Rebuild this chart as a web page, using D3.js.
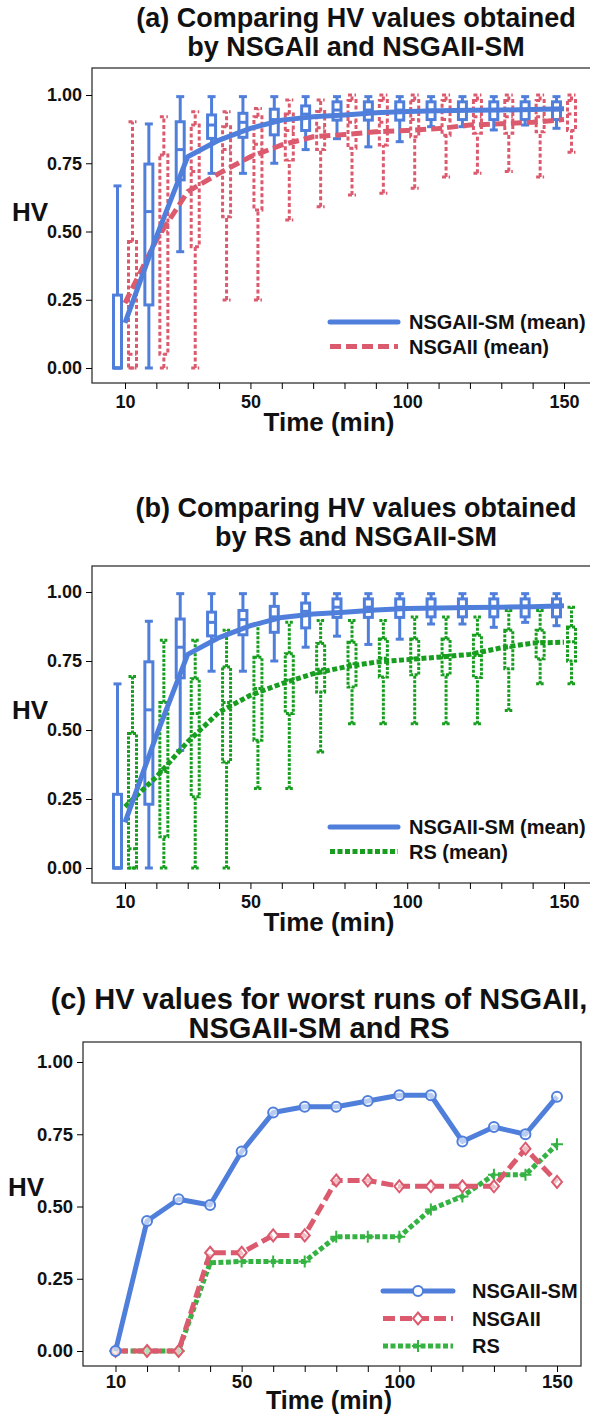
<!DOCTYPE html>
<html>
<head>
<meta charset="utf-8">
<script src="https://cdn.jsdelivr.net/npm/d3@7"></script>
<style>
  body { margin: 0; background: #fff; }
  svg { display: block; font-family: "Liberation Sans", Arial, sans-serif; font-weight: bold; }
</style>
</head>
<body>
<svg id="chart" width="590" height="1414"></svg>
<script>
const times = [10, 20, 30, 40, 50, 60, 70, 80, 90, 100, 110, 120, 130, 140, 150]
const timeLabels = [10, 50, 100, 150]
const hvTicks = [0, 0.25, 0.5, 0.75, 1]

// boxes: [whisker low, q1, median, q3, whisker high] per time
const smBoxes = [
  [0, 0, 0, 0.267, 0.667], [0, 0.231, 0.573, 0.747, 0.894], [0.426, 0.689, 0.80, 0.902, 0.994],
  [0.713, 0.841, 0.89, 0.927, 0.994], [0.713, 0.845, 0.90, 0.933, 0.994], [0.75, 0.854, 0.91, 0.948, 0.994],
  [0.80, 0.87, 0.93, 0.96, 0.994], [0.84, 0.908, 0.945, 0.975, 0.994], [0.81, 0.908, 0.945, 0.975, 0.994],
  [0.829, 0.908, 0.945, 0.975, 0.994], [0.884, 0.91, 0.945, 0.975, 0.994], [0.884, 0.91, 0.945, 0.975, 0.994],
  [0.872, 0.91, 0.945, 0.975, 0.994], [0.89, 0.91, 0.945, 0.975, 0.994], [0.878, 0.91, 0.945, 0.975, 0.994]
]
const nsgaBoxes = [
  [0, 0, 0.05, 0.463, 0.902], [0, 0.05, 0.5, 0.78, 0.92], [0, 0.444, 0.72, 0.89, 0.939],
  [0.249, 0.554, 0.80, 0.884, 0.939], [0.249, 0.579, 0.82, 0.92, 0.951], [0.542, 0.762, 0.87, 0.93, 0.982],
  [0.591, 0.80, 0.88, 0.94, 0.982], [0.634, 0.805, 0.90, 0.98, 1.0], [0.64, 0.817, 0.90, 0.98, 1.0],
  [0.658, 0.847, 0.91, 0.98, 1.0], [0.70, 0.853, 0.91, 0.98, 1.0], [0.713, 0.86, 0.92, 0.98, 1.0],
  [0.72, 0.86, 0.92, 0.98, 1.0], [0.70, 0.865, 0.92, 0.98, 1.0], [0.79, 0.87, 0.93, 0.98, 1.0]
]
const rsBoxes = [
  [0, 0, 0.07, 0.487, 0.694], [0, 0.113, 0.35, 0.60, 0.825], [0, 0.258, 0.56, 0.686, 0.825],
  [0, 0.384, 0.60, 0.728, 0.861], [0.288, 0.463, 0.65, 0.764, 0.885], [0.288, 0.56, 0.68, 0.776, 0.89],
  [0.42, 0.638, 0.72, 0.813, 0.897], [0.523, 0.656, 0.74, 0.818, 0.897], [0.523, 0.692, 0.76, 0.83, 0.897],
  [0.523, 0.70, 0.76, 0.83, 0.909], [0.523, 0.70, 0.77, 0.83, 0.909], [0.523, 0.69, 0.77, 0.843, 0.909],
  [0.571, 0.722, 0.80, 0.861, 0.933], [0.668, 0.758, 0.82, 0.861, 0.933], [0.668, 0.75, 0.82, 0.873, 0.945]
]

const smMean = [0.165, 0.48, 0.774, 0.835, 0.878, 0.908, 0.92, 0.927, 0.935, 0.94, 0.942, 0.944, 0.945, 0.947, 0.95]
const nsgaMean = [0.238, 0.469, 0.646, 0.713, 0.774, 0.817, 0.847, 0.855, 0.865, 0.87, 0.877, 0.89, 0.895, 0.90, 0.91]
const rsMean = [0.222, 0.33, 0.457, 0.565, 0.626, 0.668, 0.704, 0.728, 0.746, 0.755, 0.764, 0.774, 0.798, 0.815, 0.818]

// worst runs
const smWorst = [0, 0.45, 0.525, 0.505, 0.69, 0.825, 0.845, 0.845, 0.865, 0.885, 0.885, 0.725, 0.775, 0.75, 0.88]
const nsgaWorst = [0, 0, 0, 0.34, 0.34, 0.40, 0.40, 0.59, 0.59, 0.57, 0.57, 0.57, 0.57, 0.70, 0.585]
const rsWorst = [0, 0, 0, 0.305, 0.31, 0.31, 0.31, 0.395, 0.395, 0.395, 0.49, 0.535, 0.61, 0.61, 0.715]

const BLUE = "#4f7fdb"
const RED = "#dc5a6e"
const GREEN = "#179e1f"
const GREEN_C = "#34b343"

const svg = d3.select("#chart")

boxPanel({
  box: { left: 92, right: 620, top: 68, bottom: 383 },
  xRange: [125, 564], yRange: [368, 95],
  titles: ["(a) Comparing HV values obtained", "by NSGAII and NSGAII-SM"], titleY: [27, 56],
  other: { boxes: nsgaBoxes, mean: nsgaMean, color: RED, boxDash: "4,2.5", meanDash: "11,5", name: "NSGAII (mean)" },
  legendY: 322
})

boxPanel({
  box: { left: 92, right: 620, top: 566, bottom: 883 },
  xRange: [125, 564], yRange: [868, 592],
  titles: ["(b) Comparing HV values obtained", "by RS and NSGAII-SM"], titleY: [517, 546],
  other: { boxes: rsBoxes, mean: rsMean, color: GREEN, boxDash: "3,1.5", meanDash: "5,2.5", name: "RS (mean)" },
  legendY: 827
})

linePanel()

function frameAndAxes({ box, x, y, titles, titleY, titleX, titleSize, tickSize, xPad, hvX, timeY, timeSize }) {
  const g = svg.append("g")

  g.append("rect")
    .attr("x", box.left)
    .attr("y", box.top)
    .attr("width", box.right - box.left)
    .attr("height", box.bottom - box.top)
    .attr("fill", "none")
    .attr("stroke", "#333")
    .attr("stroke-width", 1.3)

  const styleTicks = a => a.selectAll(".tick text")
    .attr("font-size", tickSize)
    .attr("font-family", "Liberation Sans, Arial, sans-serif")
    .attr("font-weight", "bold")
    .attr("fill", "#111")

  g.append("g")
    .attr("transform", `translate(${box.left}, 0)`)
    .call(d3.axisLeft(y).tickValues(hvTicks).tickFormat(d3.format(".2f")).tickSize(6).tickPadding(4))
    .call(a => a.select(".domain").remove())
    .call(styleTicks)

  g.append("g")
    .attr("transform", `translate(0, ${box.bottom})`)
    .call(d3.axisBottom(x).tickValues(times)
      .tickFormat(d => timeLabels.includes(d) ? d : "")
      .tickSize(6).tickPadding(xPad))
    .call(a => a.select(".domain").remove())
    .call(styleTicks)

  g.append("text")
    .attr("x", hvX)
    .attr("y", y(0.5) - 11)
    .attr("font-size", 26)
    .attr("fill", "#111")
    .text("HV")

  g.append("text")
    .attr("x", 329)
    .attr("y", timeY)
    .attr("text-anchor", "middle")
    .attr("font-size", timeSize)
    .attr("fill", "#111")
    .text("Time (min)")

  titles.forEach((t, i) => {
    g.append("text")
      .attr("x", titleX)
      .attr("y", titleY[i])
      .attr("text-anchor", "middle")
      .attr("font-size", titleSize)
      .attr("fill", "#111")
      .text(t)
  })
}

function drawBoxes(g, boxes, x, y, offset, color, dash) {
  const half = 4
  const items = g.append("g")
    .attr("fill", "none")
    .attr("stroke", color)
    .attr("stroke-width", 3)
    .attr("stroke-dasharray", dash)
    .selectAll("g")
    .data(boxes.map((b, i) => ({ t: times[i], lo: b[0], q1: b[1], med: b[2], q3: b[3], hi: b[4] })))
    .join("g")
    .attr("transform", d => `translate(${x(d.t) + offset}, 0)`)

  items.append("line")
    .attr("y1", d => y(d.lo)).attr("y2", d => y(d.q1))
  items.append("line")
    .attr("y1", d => y(d.q3)).attr("y2", d => y(d.hi))
  items.append("line")
    .attr("x1", -half).attr("x2", half)
    .attr("y1", d => y(d.lo)).attr("y2", d => y(d.lo))
  items.append("line")
    .attr("x1", -half).attr("x2", half)
    .attr("y1", d => y(d.hi)).attr("y2", d => y(d.hi))
  items.append("rect")
    .attr("x", -half)
    .attr("width", half * 2)
    .attr("y", d => y(d.q3))
    .attr("height", d => Math.max(0.5, y(d.q1) - y(d.q3)))
  items.append("line")
    .attr("x1", -half).attr("x2", half)
    .attr("y1", d => y(d.med)).attr("y2", d => y(d.med))
}

function drawMean(g, values, x, y, color, width, dash) {
  g.append("path")
    .datum(values.map((v, i) => [times[i], v]))
    .attr("fill", "none")
    .attr("stroke", color)
    .attr("stroke-width", width)
    .attr("stroke-dasharray", dash)
    .attr("stroke-linejoin", "round")
    .attr("d", d3.line().x(d => x(d[0])).y(d => y(d[1])))
}

function boxPanel({ box, xRange, yRange, titles, titleY, other, legendY }) {
  const x = d3.scaleLinear().domain([10, 150]).range(xRange)
  const y = d3.scaleLinear().domain([0, 1]).range(yRange)

  frameAndAxes({ box, x, y, titles, titleY, titleX: 356, titleSize: 27,
    tickSize: 18, xPad: 6, hvX: 12, timeY: box.bottom + 48, timeSize: 26 })

  const g = svg.append("g")
  drawBoxes(g, smBoxes, x, y, -7.5, BLUE, null)
  drawBoxes(g, other.boxes, x, y, 7.5, other.color, other.boxDash)
  drawMean(g, other.mean, x, y, other.color, 5, other.meanDash)
  drawMean(g, smMean, x, y, BLUE, 5, null)

  const legend = [
    { name: "NSGAII-SM (mean)", color: BLUE, dash: null },
    { name: other.name, color: other.color, dash: other.meanDash }
  ]
  const lg = svg.append("g").selectAll("g")
    .data(legend)
    .join("g")
    .attr("transform", (d, i) => `translate(330, ${legendY + i * 24.5})`)
  lg.append("line")
    .attr("x1", 0).attr("x2", 68)
    .attr("stroke", d => d.color)
    .attr("stroke-width", 5)
    .attr("stroke-linecap", d => d.dash ? "butt" : "round")
    .attr("stroke-dasharray", d => d.dash)
  lg.append("text")
    .attr("x", 79)
    .attr("y", 7)
    .attr("font-size", 20)
    .attr("fill", "#111")
    .text(d => d.name)
}

function linePanel() {
  const box = { left: 83, right: 581, top: 1042, bottom: 1366 }
  const x = d3.scaleLinear().domain([10, 150]).range([115.5, 557])
  const y = d3.scaleLinear().domain([0, 1]).range([1351, 1062])

  frameAndAxes({ box, x, y,
    titles: ["(c) HV values for worst runs of NSGAII,", "NSGAII-SM and RS"], titleY: [1009, 1038],
    titleX: 319, titleSize: 29, tickSize: 18.5, xPad: 3, hvX: 8, timeY: 1409, timeSize: 25 })

  const series = [
    { name: "RS", values: rsWorst, color: GREEN_C, dash: "5,2.5", marker: "plus" },
    { name: "NSGAII", values: nsgaWorst, color: RED, dash: "12,5", marker: "diamond" },
    { name: "NSGAII-SM", values: smWorst, color: BLUE, dash: null, marker: "circle" }
  ]

  const marker = (sel, kind, color, fillOpacity) => {
    if (kind === "circle") {
      sel.append("circle").attr("r", 5)
        .attr("fill", "white").attr("fill-opacity", fillOpacity)
        .attr("stroke", color).attr("stroke-width", 2)
    } else if (kind === "diamond") {
      sel.append("path").attr("d", "M0,-6L5,0L0,6L-5,0Z")
        .attr("fill", "white").attr("fill-opacity", fillOpacity)
        .attr("stroke", color).attr("stroke-width", 2)
    } else {
      sel.append("path").attr("d", "M-6,0H6M0,-6V6")
        .attr("stroke", color).attr("stroke-width", 2)
    }
  }

  const g = svg.append("g")
  series.forEach(s => {
    drawMean(g, s.values, x, y, s.color, 5, s.dash)
    g.append("g").selectAll("g")
      .data(s.values.map((v, i) => [times[i], v]))
      .join("g")
      .attr("transform", d => `translate(${x(d[0])}, ${y(d[1])})`)
      .each(function() { marker(d3.select(this), s.marker, s.color, 0.6) })
  })

  const lg = svg.append("g").selectAll("g")
    .data(series.slice().reverse())
    .join("g")
    .attr("transform", (d, i) => `translate(383, ${1291 + i * 27.5})`)
  lg.append("line")
    .attr("x1", 0).attr("x2", 70)
    .attr("stroke", d => d.color)
    .attr("stroke-width", 5)
    .attr("stroke-linecap", d => d.dash ? "butt" : "round")
    .attr("stroke-dasharray", d => d.dash)
  lg.append("g")
    .attr("transform", "translate(35, 0)")
    .each(function(d) { marker(d3.select(this), d.marker, d.color, 1) })
  lg.append("text")
    .attr("x", 89)
    .attr("y", 7)
    .attr("font-size", 20)
    .attr("fill", "#111")
    .text(d => d.name)
}
</script>
</body>
</html>
